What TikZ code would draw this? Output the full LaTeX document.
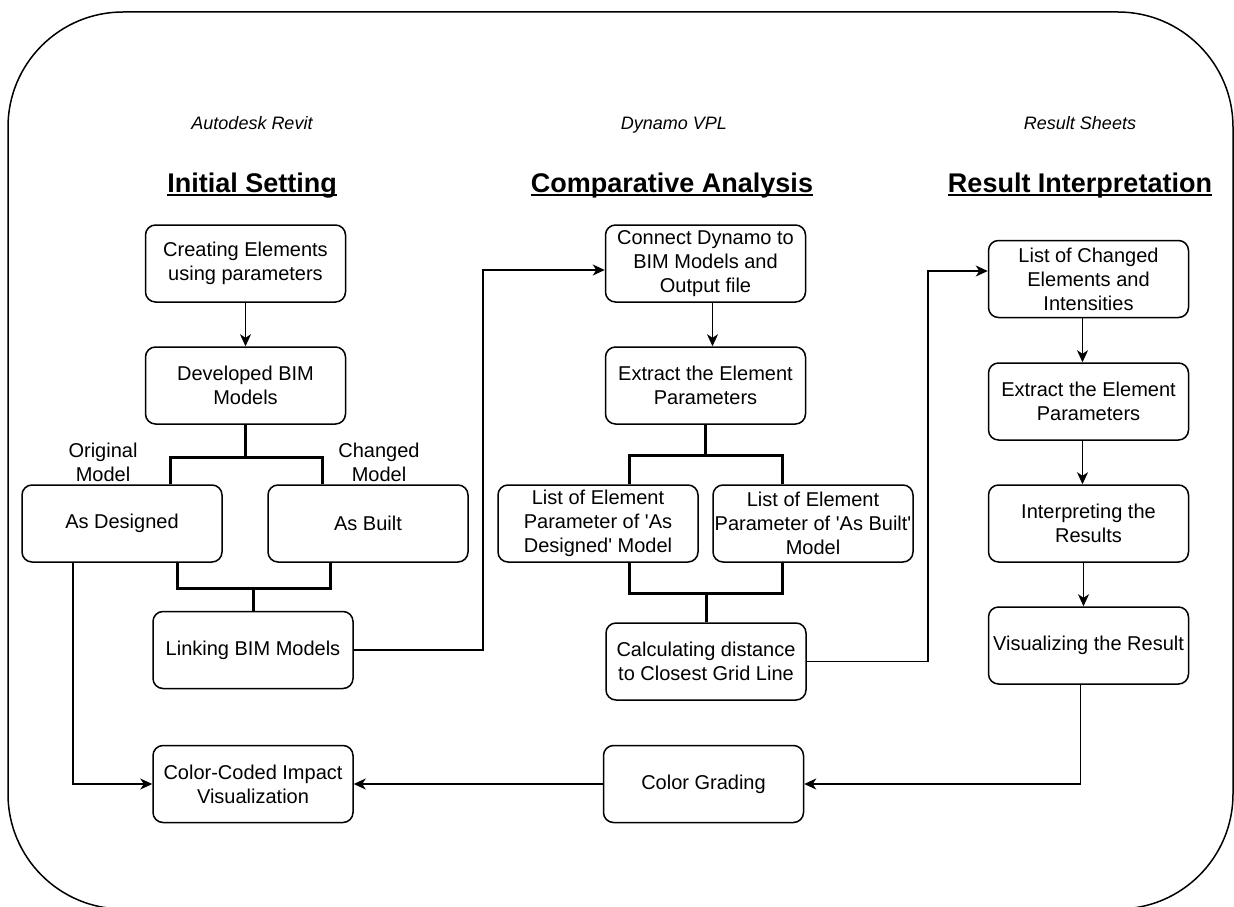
\documentclass[tikz,border=0pt]{standalone}
\usepackage{fontspec}
\setmainfont{Liberation Sans}
\usetikzlibrary{arrows.meta,calc}

\begin{document}
\begin{tikzpicture}[x=1pt,y=-1pt,
  box/.style={draw,line width=1.5pt,rounded corners=10pt,minimum width=200pt,
    minimum height=77pt,align=center,inner sep=0pt,font=\fontsize{20}{24}\selectfont},
  wire/.style={line width=1.3pt},
  arr/.style={line width=1.3pt,-{Stealth[length=12pt,width=11pt,inset=3.5pt]}},
  joint/.style={line width=3pt},
  head/.style={font=\fontsize{27}{32}\selectfont\bfseries,inner sep=0pt,anchor=base},
  tool/.style={font=\fontsize{18}{22}\selectfont\itshape,inner sep=0pt,anchor=base},
  note/.style={font=\fontsize{20}{24}\selectfont,align=center,inner sep=0pt},
  uline/.style={line width=2pt}]

\useasboundingbox (0,0) rectangle (1234,907);
\clip (0,0) rectangle (1234,907);

% outer frame
\draw[line width=1.5pt,rounded corners=115pt] (8,12) rectangle (1233,909);

% column titles
\node[tool] (t1) at (252,129) {Autodesk Revit};
\node[tool] (t2) at (674,129) {Dynamo VPL};
\node[tool] (t3) at (1080,129) {Result Sheets};

\node[head] (h1) at (252,192) {Initial Setting};
\node[head] (h2) at (672,192) {Comparative Analysis};
\node[head] (h3) at (1080,192) {Result Interpretation};
\foreach \h in {h1,h2,h3}
  \draw[uline] ($(\h.base west)+(0,3)$) -- ($(\h.base east)+(0,3)$);

% left column
\node[box] (create) at (245.5,263.5) {Creating Elements\\using parameters};
\node[box] (dev)    at (245.5,385.5) {Developed BIM\\Models};
\node[box] (asd)    at (122,523.5)   {As Designed};
\node[box] (asb)    at (368,523.5)   {As Built};
\node[box] (link)   at (253,650)     {Linking BIM Models};
\node[box] (ccv)    at (253,784)     {Color-Coded Impact\\Visualization};
\node[note] (orig)  at (103,462)     {Original\\Model};
\node[note] (chg)   at (379,462)     {Changed\\Model};

% middle column
\node[box] (conn)  at (705.5,263.5) {Connect Dynamo to\\BIM Models and\\Output file};
\node[box] (ext)   at (705.5,385.5) {Extract the Element\\Parameters};
\node[box] (lad)   at (598,523.5)   {List of Element\\Parameter of \textquotesingle As\\Designed\textquotesingle{} Model};
\node[box] (lab)   at (813,523.5)   {List of Element\\Parameter of \textquotesingle As Built\textquotesingle\\Model};
\node[box] (calc)  at (706,661.5)   {Calculating distance\\to Closest Grid Line};
\node[box] (grade) at (703.5,784)   {Color Grading};

% right column
\node[box] (lce)    at (1088.5,279)   {List of Changed\\Elements and\\Intensities};
\node[box] (ext2)   at (1088.5,401.5) {Extract the Element\\Parameters};
\node[box] (interp) at (1088.5,523.5) {Interpreting the\\Results};
\node[box] (vis)    at (1088.5,645.5) {Visualizing the Result};

% junction points
\coordinate (a1) at (170,457);  \coordinate (a2) at (322,457);
\coordinate (b1) at (177,588);  \coordinate (b2) at (330,588);
\coordinate (c1) at (629,455);  \coordinate (c2) at (782,455);
\coordinate (d1) at (629,593);  \coordinate (d2) at (782,593);
\coordinate (k1) at (483,270);
\coordinate (k2) at (928,271);
\coordinate (k4) at (73,784);

% split / merge joints
\draw[joint] (dev.south) -- (dev.south |- a1);
\draw[joint] (a1 |- asd.north) -- (a1) -- (a2) -- (a2 |- asb.north);
\draw[joint] (b1 |- asd.south) -- (b1) -- (b2) -- (b2 |- asb.south);
\draw[joint] (link.north) -- (link.north |- b1);

\draw[joint] (ext.south) -- (ext.south |- c1);
\draw[joint] (c1 |- lad.north) -- (c1) -- (c2) -- (c2 |- lab.north);
\draw[joint] (d1 |- lad.south) -- (d1) -- (d2) -- (d2 |- lab.south);
\draw[joint] (calc.north) -- (calc.north |- d1);

% arrows
\draw[arr] (create) -- (dev);
\draw[arr] ($(conn.south)+(7,0)$) -- ($(ext.north)+(7,0)$);
\draw[arr] ($(lce.south)+(-6,0)$) -- ($(ext2.north)+(-6,0)$);
\draw[arr] ($(ext2.south)+(-6,0)$) -- ($(interp.north)+(-6,0)$);
\draw[arr] ($(interp.south)+(-5,0)$) -- ($(vis.north)+(-5,0)$);

\draw[arr] (link.east) -| (k1) -- (conn.west |- k1);
\draw[arr] (calc.east) -| (k2) -- (lce.west |- k2);
\draw[arr] ($(vis.south)+(-8,0)$) |- (grade.east);
\draw[arr] (grade) -- (ccv);
\draw[arr] (k4 |- asd.south) -- (k4) -- (ccv.west);
\end{tikzpicture}
\end{document}
